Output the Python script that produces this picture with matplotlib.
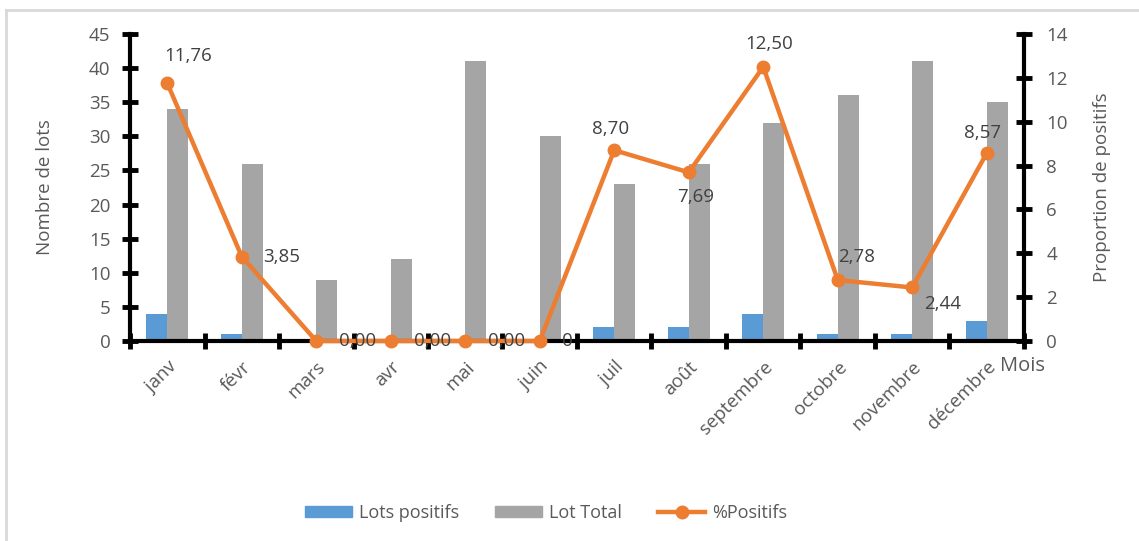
import numpy as np
import matplotlib.pyplot as plt
from matplotlib.lines import Line2D
from matplotlib.patches import Patch

plt.rcParams['font.family'] = ['Open Sans', 'DejaVu Sans']

mois = ["janv", "févr", "mars", "avr", "mai", "juin", "juil", "août",
        "septembre", "octobre", "novembre", "décembre"]
lots_positifs = [4, 1, 0, 0, 0, 0, 2, 2, 4, 1, 1, 3]
lot_total = [34, 26, 9, 12, 41, 30, 23, 26, 32, 36, 41, 35]
pct_positifs = [11.76, 3.85, 0.00, 0.00, 0.00, 0.00, 8.70, 7.69, 12.50, 2.78, 2.44, 8.57]
pct_labels = ["11,76", "3,85", "0,00", "0,00", "0,00", "0", "8,70", "7,69",
              "12,50", "2,78", "2,44", "8,57"]
# where each data label sits relative to its point (pixels) and its alignment
label_pos = [(21, 27, 'center', 'center'), (21, 0, 'left', 'center'),
             (23, 0, 'left', 'center'), (23, 0, 'left', 'center'),
             (23, 0, 'left', 'center'), (22, 0, 'left', 'center'),
             (-4, 21, 'center', 'center'), (7, -25, 'center', 'center'),
             (6, 23, 'center', 'center'), (19, 23, 'center', 'center'),
             (12, -17, 'left', 'center'), (-4, 20, 'center', 'center')]

BLUE = '#5b9bd5'
GREY = '#a5a5a5'
ORANGE = '#ed7d31'
TXT = '#595959'
FS = 13.5

fig = plt.figure(figsize=(11.39, 5.41), dpi=100)
ax = fig.add_axes([130 / 1139, 1 - 341 / 541, (1024 - 130) / 1139, (341 - 34) / 541])
ax2 = ax.twinx()

x = np.arange(len(mois))
w = 0.28
ax.bar(x - w / 2, lots_positifs, w, color=BLUE, zorder=2)
ax.bar(x + w / 2, lot_total, w, color=GREY, zorder=2)

ax2.plot(x, pct_positifs, color=ORANGE, lw=3.2, marker='o', ms=9,
         clip_on=False, zorder=5)
for xi, v, s, (dx, dy, ha, va) in zip(x, pct_positifs, pct_labels, label_pos):
    ax2.annotate(s, (xi, v), xytext=(dx, dy), textcoords='offset pixels',
                 ha=ha, va=va, fontsize=FS, color='#404040', zorder=6,
                 annotation_clip=False)

ax.set_xlim(-0.5, len(mois) - 0.5)
ax.set_ylim(0, 45)
ax2.set_ylim(0, 14)
ax.set_yticks(np.arange(0, 46, 5))
ax2.set_yticks(np.arange(0, 15, 2))

ax.set_xticks(x)
ax.set_xticklabels(mois, rotation=45, ha='right', va='top', rotation_mode='anchor')
ax.set_xticks(np.arange(-0.5, len(mois), 1), minor=True)
ax.tick_params(axis='x', which='major', length=0, pad=12, labelsize=FS, labelcolor=TXT)
ax.tick_params(axis='x', which='minor', direction='inout', length=12, width=3.5, color='black')
ax.tick_params(axis='y', direction='inout', length=12, width=3.5, color='black',
               labelsize=FS, labelcolor=TXT, pad=8)
ax2.tick_params(axis='y', direction='inout', length=12, width=3.5, color='black',
                labelsize=FS, labelcolor=TXT, pad=10)

for sp in ['top', 'right']:
    ax.spines[sp].set_visible(False)
for sp in ['top', 'left', 'bottom']:
    ax2.spines[sp].set_visible(False)
ax.spines['left'].set_linewidth(3)
ax.spines['bottom'].set_linewidth(3)
ax2.spines['right'].set_linewidth(3)

ax.set_ylabel("Nombre de lots", fontsize=FS, color=TXT)
ax2.set_ylabel("Proportion de positifs", fontsize=FS, color=TXT)
ax.yaxis.set_label_coords(-0.085, 0.5)
ax2.yaxis.set_label_coords(1.077, 0.5)
fig.text(1022 / 1139, 1 - 366 / 541, "Mois", fontsize=FS + 1, color=TXT,
         ha='center', va='center')

handles = [Patch(color=BLUE, label="Lots positifs"),
           Patch(color=GREY, label="Lot Total"),
           Line2D([], [], color=ORANGE, lw=3.2, marker='o', ms=9, label="%Positifs")]
leg = fig.legend(handles=handles, loc='center', bbox_to_anchor=(546 / 1139, 1 - 513 / 541),
                 ncol=3, frameon=False, fontsize=FS - 0.5, handlelength=2.6, handleheight=0.5,
                 columnspacing=2.0, handletextpad=0.4)
for t in leg.get_texts():
    t.set_color(TXT)

# light frame around the chart area
fig.add_artist(Line2D([6 / 1139, 6 / 1139], [1 - 540 / 541, 1 - 10 / 541],
                      color='#d9d9d9', lw=2))
fig.add_artist(Line2D([6 / 1139, 1], [1 - 10 / 541, 1 - 10 / 541],
                      color='#d9d9d9', lw=2))

fig.savefig("out.png", dpi=100)
